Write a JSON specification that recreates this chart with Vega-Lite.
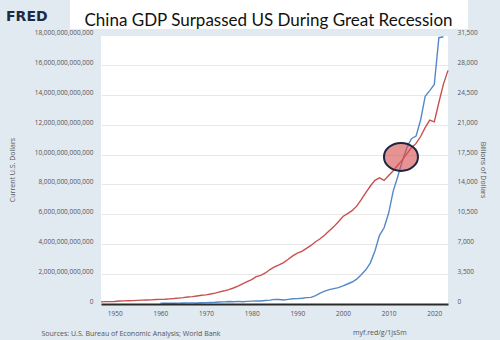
{
  "$schema": "https://vega.github.io/schema/vega-lite/v6.json",
  "width": 347,
  "height": 269,
  "autosize": {"type": "none"},
  "padding": {"left": 101, "top": 35, "right": 52, "bottom": 36},
  "background": "#e1e9f1",
  "view": {"fill": "white", "stroke": null},
  "config": {
    "font": "Open Sans",
    "axis": {
      "labelFont": "Open Sans",
      "labelFontSize": 6.5,
      "labelColor": "#555555",
      "titleFont": "Open Sans",
      "titleFontSize": 7,
      "titleColor": "#555555",
      "titleFontWeight": "normal"
    }
  },
  "datasets": {
    "china": [
      {"year": 1960, "value": 5.97e10},
      {"year": 1961, "value": 5.01e10},
      {"year": 1962, "value": 4.72e10},
      {"year": 1963, "value": 5.07e10},
      {"year": 1964, "value": 5.97e10},
      {"year": 1965, "value": 7.04e10},
      {"year": 1966, "value": 7.67e10},
      {"year": 1967, "value": 7.29e10},
      {"year": 1968, "value": 7.08e10},
      {"year": 1969, "value": 7.97e10},
      {"year": 1970, "value": 9.26e10},
      {"year": 1971, "value": 9.98e10},
      {"year": 1972, "value": 1.137e11},
      {"year": 1973, "value": 1.385e11},
      {"year": 1974, "value": 1.442e11},
      {"year": 1975, "value": 1.634e11},
      {"year": 1976, "value": 1.539e11},
      {"year": 1977, "value": 1.749e11},
      {"year": 1978, "value": 1.495e11},
      {"year": 1979, "value": 1.783e11},
      {"year": 1980, "value": 1.911e11},
      {"year": 1981, "value": 1.959e11},
      {"year": 1982, "value": 2.051e11},
      {"year": 1983, "value": 2.307e11},
      {"year": 1984, "value": 2.599e11},
      {"year": 1985, "value": 3.095e11},
      {"year": 1986, "value": 3.008e11},
      {"year": 1987, "value": 2.729e11},
      {"year": 1988, "value": 3.124e11},
      {"year": 1989, "value": 3.478e11},
      {"year": 1990, "value": 3.609e11},
      {"year": 1991, "value": 3.834e11},
      {"year": 1992, "value": 4.269e11},
      {"year": 1993, "value": 4.447e11},
      {"year": 1994, "value": 5.643e11},
      {"year": 1995, "value": 7.345e11},
      {"year": 1996, "value": 8.637e11},
      {"year": 1997, "value": 9.616e11},
      {"year": 1998, "value": 1.029e12},
      {"year": 1999, "value": 1.094e12},
      {"year": 2000, "value": 1.211e12},
      {"year": 2001, "value": 1.339e12},
      {"year": 2002, "value": 1.471e12},
      {"year": 2003, "value": 1.660e12},
      {"year": 2004, "value": 1.955e12},
      {"year": 2005, "value": 2.286e12},
      {"year": 2006, "value": 2.752e12},
      {"year": 2007, "value": 3.550e12},
      {"year": 2008, "value": 4.594e12},
      {"year": 2009, "value": 5.102e12},
      {"year": 2010, "value": 6.087e12},
      {"year": 2011, "value": 7.552e12},
      {"year": 2012, "value": 8.532e12},
      {"year": 2013, "value": 9.570e12},
      {"year": 2014, "value": 1.0476e13},
      {"year": 2015, "value": 1.1062e13},
      {"year": 2016, "value": 1.1233e13},
      {"year": 2017, "value": 1.2310e13},
      {"year": 2018, "value": 1.3895e13},
      {"year": 2019, "value": 1.4280e13},
      {"year": 2020, "value": 1.4688e13},
      {"year": 2021, "value": 1.7820e13},
      {"year": 2022, "value": 1.7882e13}
    ],
    "us": [
      {"year": 1947, "value": 249.6},
      {"year": 1948, "value": 274.5},
      {"year": 1949, "value": 272.5},
      {"year": 1950, "value": 299.8},
      {"year": 1951, "value": 346.9},
      {"year": 1952, "value": 367.3},
      {"year": 1953, "value": 389.2},
      {"year": 1954, "value": 390.5},
      {"year": 1955, "value": 425.5},
      {"year": 1956, "value": 449.4},
      {"year": 1957, "value": 474.0},
      {"year": 1958, "value": 481.2},
      {"year": 1959, "value": 521.7},
      {"year": 1960, "value": 542.4},
      {"year": 1961, "value": 562.2},
      {"year": 1962, "value": 603.9},
      {"year": 1963, "value": 637.5},
      {"year": 1964, "value": 684.5},
      {"year": 1965, "value": 742.3},
      {"year": 1966, "value": 813.4},
      {"year": 1967, "value": 860.0},
      {"year": 1968, "value": 940.7},
      {"year": 1969, "value": 1017.6},
      {"year": 1970, "value": 1073.3},
      {"year": 1971, "value": 1164.9},
      {"year": 1972, "value": 1279.1},
      {"year": 1973, "value": 1425.4},
      {"year": 1974, "value": 1545.2},
      {"year": 1975, "value": 1684.9},
      {"year": 1976, "value": 1873.4},
      {"year": 1977, "value": 2081.8},
      {"year": 1978, "value": 2351.6},
      {"year": 1979, "value": 2627.3},
      {"year": 1980, "value": 2857.3},
      {"year": 1981, "value": 3207.0},
      {"year": 1982, "value": 3343.8},
      {"year": 1983, "value": 3634.0},
      {"year": 1984, "value": 4037.6},
      {"year": 1985, "value": 4339.0},
      {"year": 1986, "value": 4579.6},
      {"year": 1987, "value": 4855.2},
      {"year": 1988, "value": 5236.4},
      {"year": 1989, "value": 5641.6},
      {"year": 1990, "value": 5963.1},
      {"year": 1991, "value": 6158.1},
      {"year": 1992, "value": 6520.3},
      {"year": 1993, "value": 6858.6},
      {"year": 1994, "value": 7287.2},
      {"year": 1995, "value": 7639.7},
      {"year": 1996, "value": 8073.1},
      {"year": 1997, "value": 8577.6},
      {"year": 1998, "value": 9062.8},
      {"year": 1999, "value": 9631.2},
      {"year": 2000, "value": 10251.0},
      {"year": 2001, "value": 10581.9},
      {"year": 2002, "value": 10929.1},
      {"year": 2003, "value": 11456.5},
      {"year": 2004, "value": 12217.2},
      {"year": 2005, "value": 13039.2},
      {"year": 2006, "value": 13815.6},
      {"year": 2007, "value": 14474.2},
      {"year": 2008, "value": 14769.9},
      {"year": 2009, "value": 14478.1},
      {"year": 2010, "value": 15049.0},
      {"year": 2011, "value": 15599.7},
      {"year": 2012, "value": 16254.0},
      {"year": 2013, "value": 16880.7},
      {"year": 2014, "value": 17608.1},
      {"year": 2015, "value": 18295.0},
      {"year": 2016, "value": 18804.9},
      {"year": 2017, "value": 19612.1},
      {"year": 2018, "value": 20656.5},
      {"year": 2019, "value": 21521.4},
      {"year": 2020, "value": 21323.0},
      {"year": 2021, "value": 23594.0},
      {"year": 2022, "value": 25744.1},
      {"year": 2023, "value": 27360.9}
    ]
  },
  "encoding": {
    "x": {
      "field": "year", "type": "quantitative",
      "scale": {"domain": [1947, 2023], "nice": false, "zero": false},
      "axis": {
        "orient": "bottom",
        "values": [1950, 1960, 1970, 1980, 1990, 2000, 2010, 2020],
        "format": "d",
        "grid": false,
        "ticks": false,
        "domain": true,
        "domainColor": "#2a2a2a",
        "domainWidth": 2,
        "labelPadding": 6,
        "zindex": 1,
        "title": "Sources: U.S. Bureau of Economic Analysis; World Bank",
        "titleX": -60,
        "titleY": 31,
        "titleAlign": "left",
        "titleBaseline": "alphabetic"
      }
    }
  },
  "layer": [
    {
      "data": {"values": [{"year": 1940.21, "year_end": 2027.38, "value": 20.342e12, "value_end": 18.401e12}]},
      "mark": {"type": "rect", "fill": "white"},
      "encoding": {
        "x2": {"field": "year_end"},
        "y": {"field": "value", "type": "quantitative", "axis": null, "scale": {"domain": [0, 18e12], "nice": false, "zero": false}},
        "y2": {"field": "value_end"}
      }
    },
    {
      "data": {"name": "china"},
      "mark": {"type": "line", "color": "#5588c8", "strokeWidth": 1.4},
      "encoding": {
        "y": {
          "field": "value", "type": "quantitative",
          "scale": {"domain": [0, 18e12], "nice": false},
          "axis": {
            "orient": "left",
            "values": [0, 2e12, 4e12, 6e12, 8e12, 10e12, 12e12, 14e12, 16e12, 18e12],
            "format": ",.0f",
            "grid": true,
            "gridColor": "#e8e8e8",
            "gridWidth": 1,
            "ticks": false,
            "domain": false,
            "labelPadding": 8,
            "labelOffset": -2.5,
            "title": "Current U.S. Dollars",
            "titleX": -89,
            "titleY": 134.5,
            "titleAngle": -90,
            "titleAlign": "center",
            "titleBaseline": "middle"
          }
        }
      }
    },
    {
      "data": {"name": "us"},
      "mark": {"type": "line", "color": "#c8504f", "strokeWidth": 1.4},
      "encoding": {
        "y": {
          "field": "value", "type": "quantitative",
          "scale": {"domain": [0, 31500], "nice": false},
          "axis": {
            "orient": "right",
            "values": [0, 3500, 7000, 10500, 14000, 17500, 21000, 24500, 28000, 31500],
            "format": ",.0f",
            "grid": false,
            "ticks": false,
            "domain": false,
            "labelPadding": 9,
            "labelOffset": -2.5,
            "title": "Billions of Dollars",
            "titleX": 34,
            "titleY": 134.5,
            "titleAngle": 90,
            "titleAlign": "center",
            "titleBaseline": "middle"
          }
        }
      }
    },
    {
      "data": {"values": [{"year": 2012.7, "value": 9.84e12}]},
      "mark": {
        "type": "point",
        "shape": "M -1 0 A 1 0.82 0 1 0 1 0 A 1 0.82 0 1 0 -1 0 Z",
        "size": 1156,
        "filled": true,
        "fill": "#d65050",
        "fillOpacity": 0.62,
        "stroke": "#1c2541",
        "strokeWidth": 2,
        "strokeOpacity": 1,
        "opacity": 1
      },
      "encoding": {
        "y": {"field": "value", "type": "quantitative", "axis": null, "scale": {"domain": [0, 18e12], "nice": false}}
      }
    },
    {
      "data": {"values": [{"label": "China GDP Surpassed US During Great Recession", "year": 1983.69, "value": 18.602e12}]},
      "mark": {"type": "text", "font": "Lato", "fontSize": 17, "color": "#111111", "align": "center", "baseline": "alphabetic"},
      "encoding": {
        "text": {"field": "label"},
        "y": {"field": "value", "type": "quantitative", "axis": null, "scale": {"domain": [0, 18e12], "nice": false}}
      }
    },
    {
      "data": {"values": [{"label": "FRED", "year": 1926.2, "value": 18.937e12}]},
      "mark": {"type": "text", "font": "DejaVu Sans", "fontWeight": "bold", "fontSize": 14, "color": "#1d2b45", "align": "left", "baseline": "alphabetic"},
      "encoding": {
        "text": {"field": "label"},
        "y": {"field": "value", "type": "quantitative", "axis": null, "scale": {"domain": [0, 18e12], "nice": false}}
      }
    },
    {
      "data": {"values": [{"label": "myf.red/g/1jsSm", "year": 2002.2, "value": -2.074e12}]},
      "mark": {"type": "text", "font": "Open Sans", "fontSize": 7, "color": "#555555", "align": "left", "baseline": "alphabetic"},
      "encoding": {
        "text": {"field": "label"},
        "y": {"field": "value", "type": "quantitative", "axis": null, "scale": {"domain": [0, 18e12], "nice": false}}
      }
    }
  ],
  "resolve": {"scale": {"y": "independent"}, "axis": {"y": "independent"}}
}
